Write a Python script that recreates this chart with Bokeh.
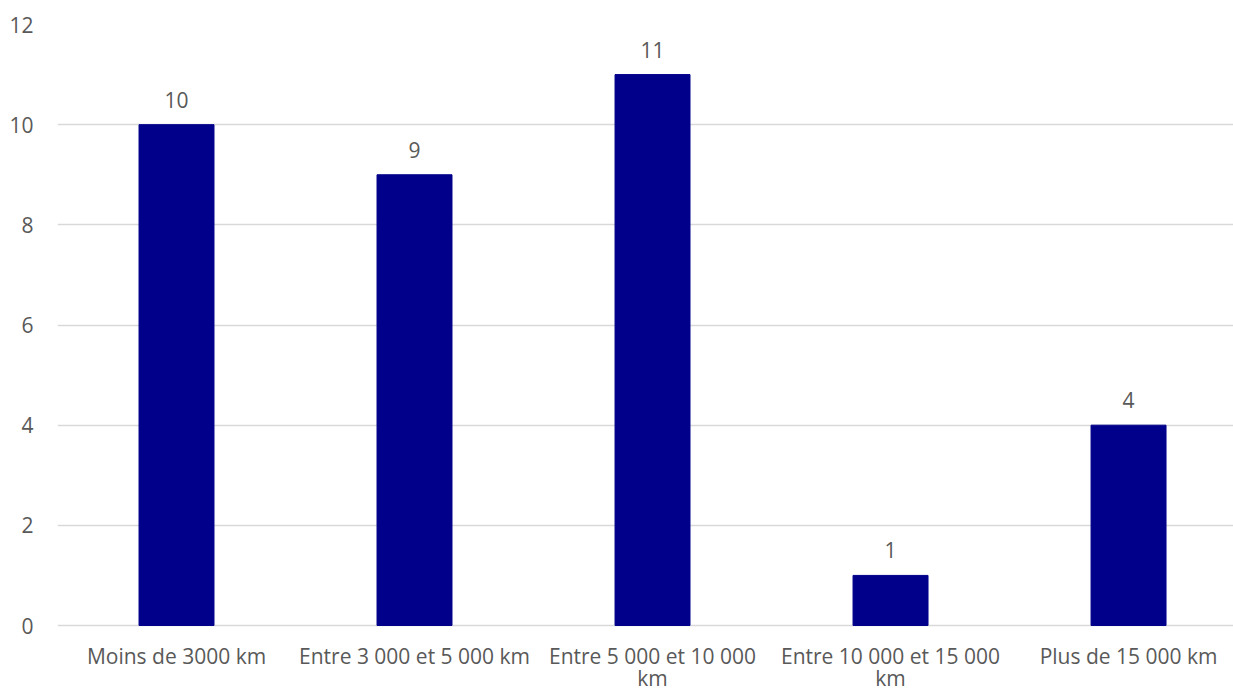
from bokeh.plotting import figure
from bokeh.models import Range1d, FixedTicker, ColumnDataSource, LabelSet
from bokeh.core.properties import value
from bokeh.embed import file_html
from bokeh.resources import INLINE

categories = ["Moins de 3000 km", "Entre 3 000 et 5 000 km", "Entre 5 000 et 10 000\nkm",
              "Entre 10 000 et 15 000\nkm", "Plus de 15 000 km"]
values = [10, 9, 11, 1, 4]
y_ticks = [0, 2, 4, 6, 8, 10, 12]

positions = list(range(len(categories)))
line1 = [c.split("\n")[0] for c in categories]
line2 = [c.split("\n")[1] if "\n" in c else "" for c in categories]
src = ColumnDataSource(dict(x=positions, top=values, zero=[0] * len(values),
                            label=[str(v) for v in values], l1=line1, l2=line2))

FONT = "Open Sans"
TXT = "#595959"
FS = "21px"

# 0 at y=625 px, 12 at y=24 px; frame continues to the bottom edge (691 px)
y_bottom = -66 * 12 / 601

p = figure(width=1233, height=691, output_backend="svg", toolbar_location=None,
           x_range=Range1d(-0.5, 4.441), y_range=Range1d(y_bottom, 12),
           min_border_left=57, min_border_right=0, min_border_top=24, min_border_bottom=0)
p.outline_line_color = None
p.background_fill_color = "white"
p.border_fill_color = "white"

p.vbar(x="x", top="top", width=0.315, bottom=0, source=src, color="#00008B")

p.add_layout(LabelSet(x="x", y="top", text="label", source=src, text_align="center",
                      text_baseline="alphabetic", y_offset=17, text_font=value(FONT),
                      text_font_size=FS, text_color=TXT))
p.add_layout(LabelSet(x="x", y="zero", text="l1", source=src, text_align="center",
                      text_baseline="alphabetic", y_offset=-38, text_font=value(FONT),
                      text_font_size=FS, text_color=TXT))
p.add_layout(LabelSet(x="x", y="zero", text="l2", source=src, text_align="center",
                      text_baseline="alphabetic", y_offset=-60, text_font=value(FONT),
                      text_font_size=FS, text_color=TXT))

p.xgrid.grid_line_color = None
p.ygrid.grid_line_color = "#D9D9D9"
p.ygrid.grid_line_width = 1.5
p.ygrid.ticker = FixedTicker(ticks=y_ticks)

p.yaxis.ticker = FixedTicker(ticks=y_ticks)
p.yaxis.axis_line_color = None
p.yaxis.major_tick_line_color = None
p.yaxis.minor_tick_line_color = None
p.yaxis.major_label_standoff = 18
p.yaxis.major_label_text_font = FONT
p.yaxis.major_label_text_font_size = FS
p.yaxis.major_label_text_color = TXT

p.xaxis.visible = False

open("out.html", "w").write(file_html(p, INLINE))
